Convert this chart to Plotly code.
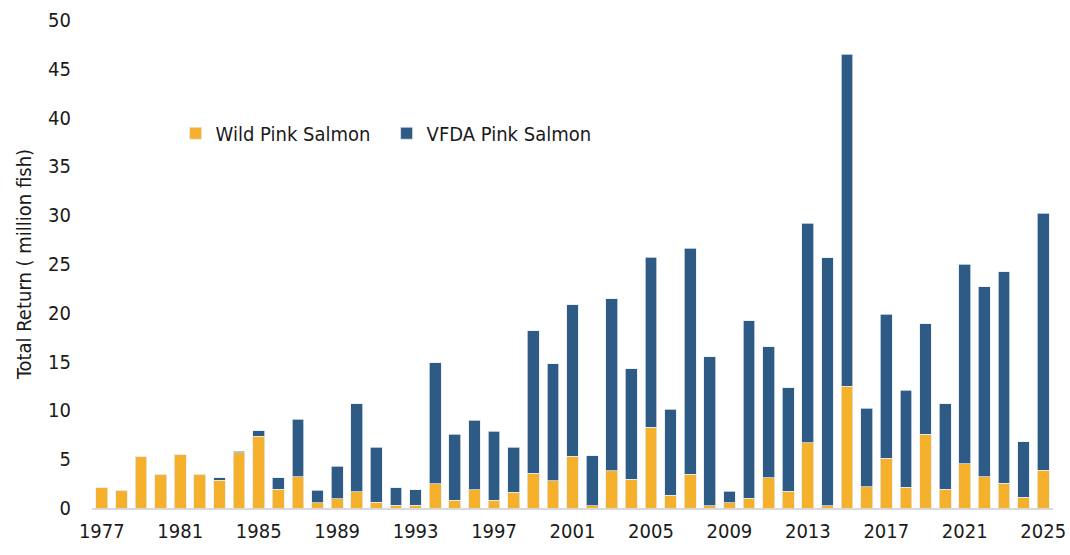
import plotly.graph_objects as go

years = list(range(1977, 2026))
wild = [2.05, 1.8, 5.25, 3.45, 5.45, 3.45, 2.85, 5.65, 7.35, 1.9,
        3.2, 0.55, 0.95, 1.65, 0.6, 0.3, 0.3, 2.5, 0.8, 1.85,
        0.8, 1.6, 3.55, 2.8, 5.3, 0.25, 3.8, 2.95, 8.25, 1.3,
        3.45, 0.25, 0.55, 1.0, 3.1, 1.7, 6.7, 0.25, 12.45, 2.2,
        5.1, 2.15, 7.55, 1.9, 4.55, 3.2, 2.55, 1.1, 3.85]
total = [2.05, 1.8, 5.25, 3.45, 5.45, 3.45, 3.1, 5.82, 7.9, 3.1,
         9.08, 1.8, 4.27, 10.68, 6.22, 2.1, 1.85, 14.9, 7.56, 9.0,
         7.85, 6.22, 18.16, 14.8, 20.8, 5.35, 21.45, 14.25, 25.7, 10.1,
         26.63, 15.48, 1.7, 19.2, 16.5, 12.3, 29.2, 25.65, 46.5, 10.24,
         19.83, 12.08, 18.9, 10.7, 24.96, 22.65, 24.2, 6.77, 30.2]
vfda = [round(t - w, 2) for t, w in zip(total, wild)]

xtick_years = list(range(1977, 2026, 4))
ytick_vals = list(range(0, 51, 5))

ORANGE = "#F5B02C"
BLUE = "#2E5A86"
FONT = "DejaVu Sans Condensed, Liberation Sans Narrow, Arial Narrow, sans-serif"

fig = go.Figure()
fig.add_trace(go.Bar(x=years, y=wild, name="Wild Pink Salmon",
                     marker=dict(color=ORANGE, line=dict(color="rgba(230,235,242,0.9)", width=0.8))))
fig.add_trace(go.Bar(x=years, y=vfda, name="VFDA Pink Salmon",
                     marker=dict(color=BLUE, line=dict(color="rgba(230,235,242,0.9)", width=0.8))))

fig.update_layout(
    barmode="stack",
    bargap=0.4,
    width=1070, height=555,
    margin=dict(l=92, r=17, t=20, b=47, autoexpand=False),
    plot_bgcolor="white", paper_bgcolor="white",
    font=dict(family=FONT, size=20, color="#1a1a1a"),
    showlegend=True,
    legend=dict(orientation="h", x=0.087, xanchor="left", y=0.768, yanchor="middle",
                font=dict(family=FONT, size=20, color="#1a1a1a"),
                bgcolor="rgba(0,0,0,0)", entrywidth=166, itemwidth=30,
                traceorder="normal"),
    xaxis=dict(range=[1976.5, 2025.5], tickmode="array", tickvals=xtick_years,
               ticktext=[str(y) for y in xtick_years], showgrid=False,
               showline=True, linecolor="#d9d9d9", linewidth=2, ticks="",
               ticklabelstandoff=4, tickfont=dict(size=20), automargin=False),
    yaxis=dict(range=[0, 50], tickmode="array", tickvals=ytick_vals, showgrid=False,
               zeroline=False, showline=False, ticks="", ticklabelstandoff=20,
               tickfont=dict(size=20), automargin=False,
               title=dict(text="Total Return ( million fish)", font=dict(size=20), standoff=11)),
)

fig.write_html("out.html", config={"displayModeBar": False},
               post_script="document.body.style.margin='0';document.body.style.padding='0';")
